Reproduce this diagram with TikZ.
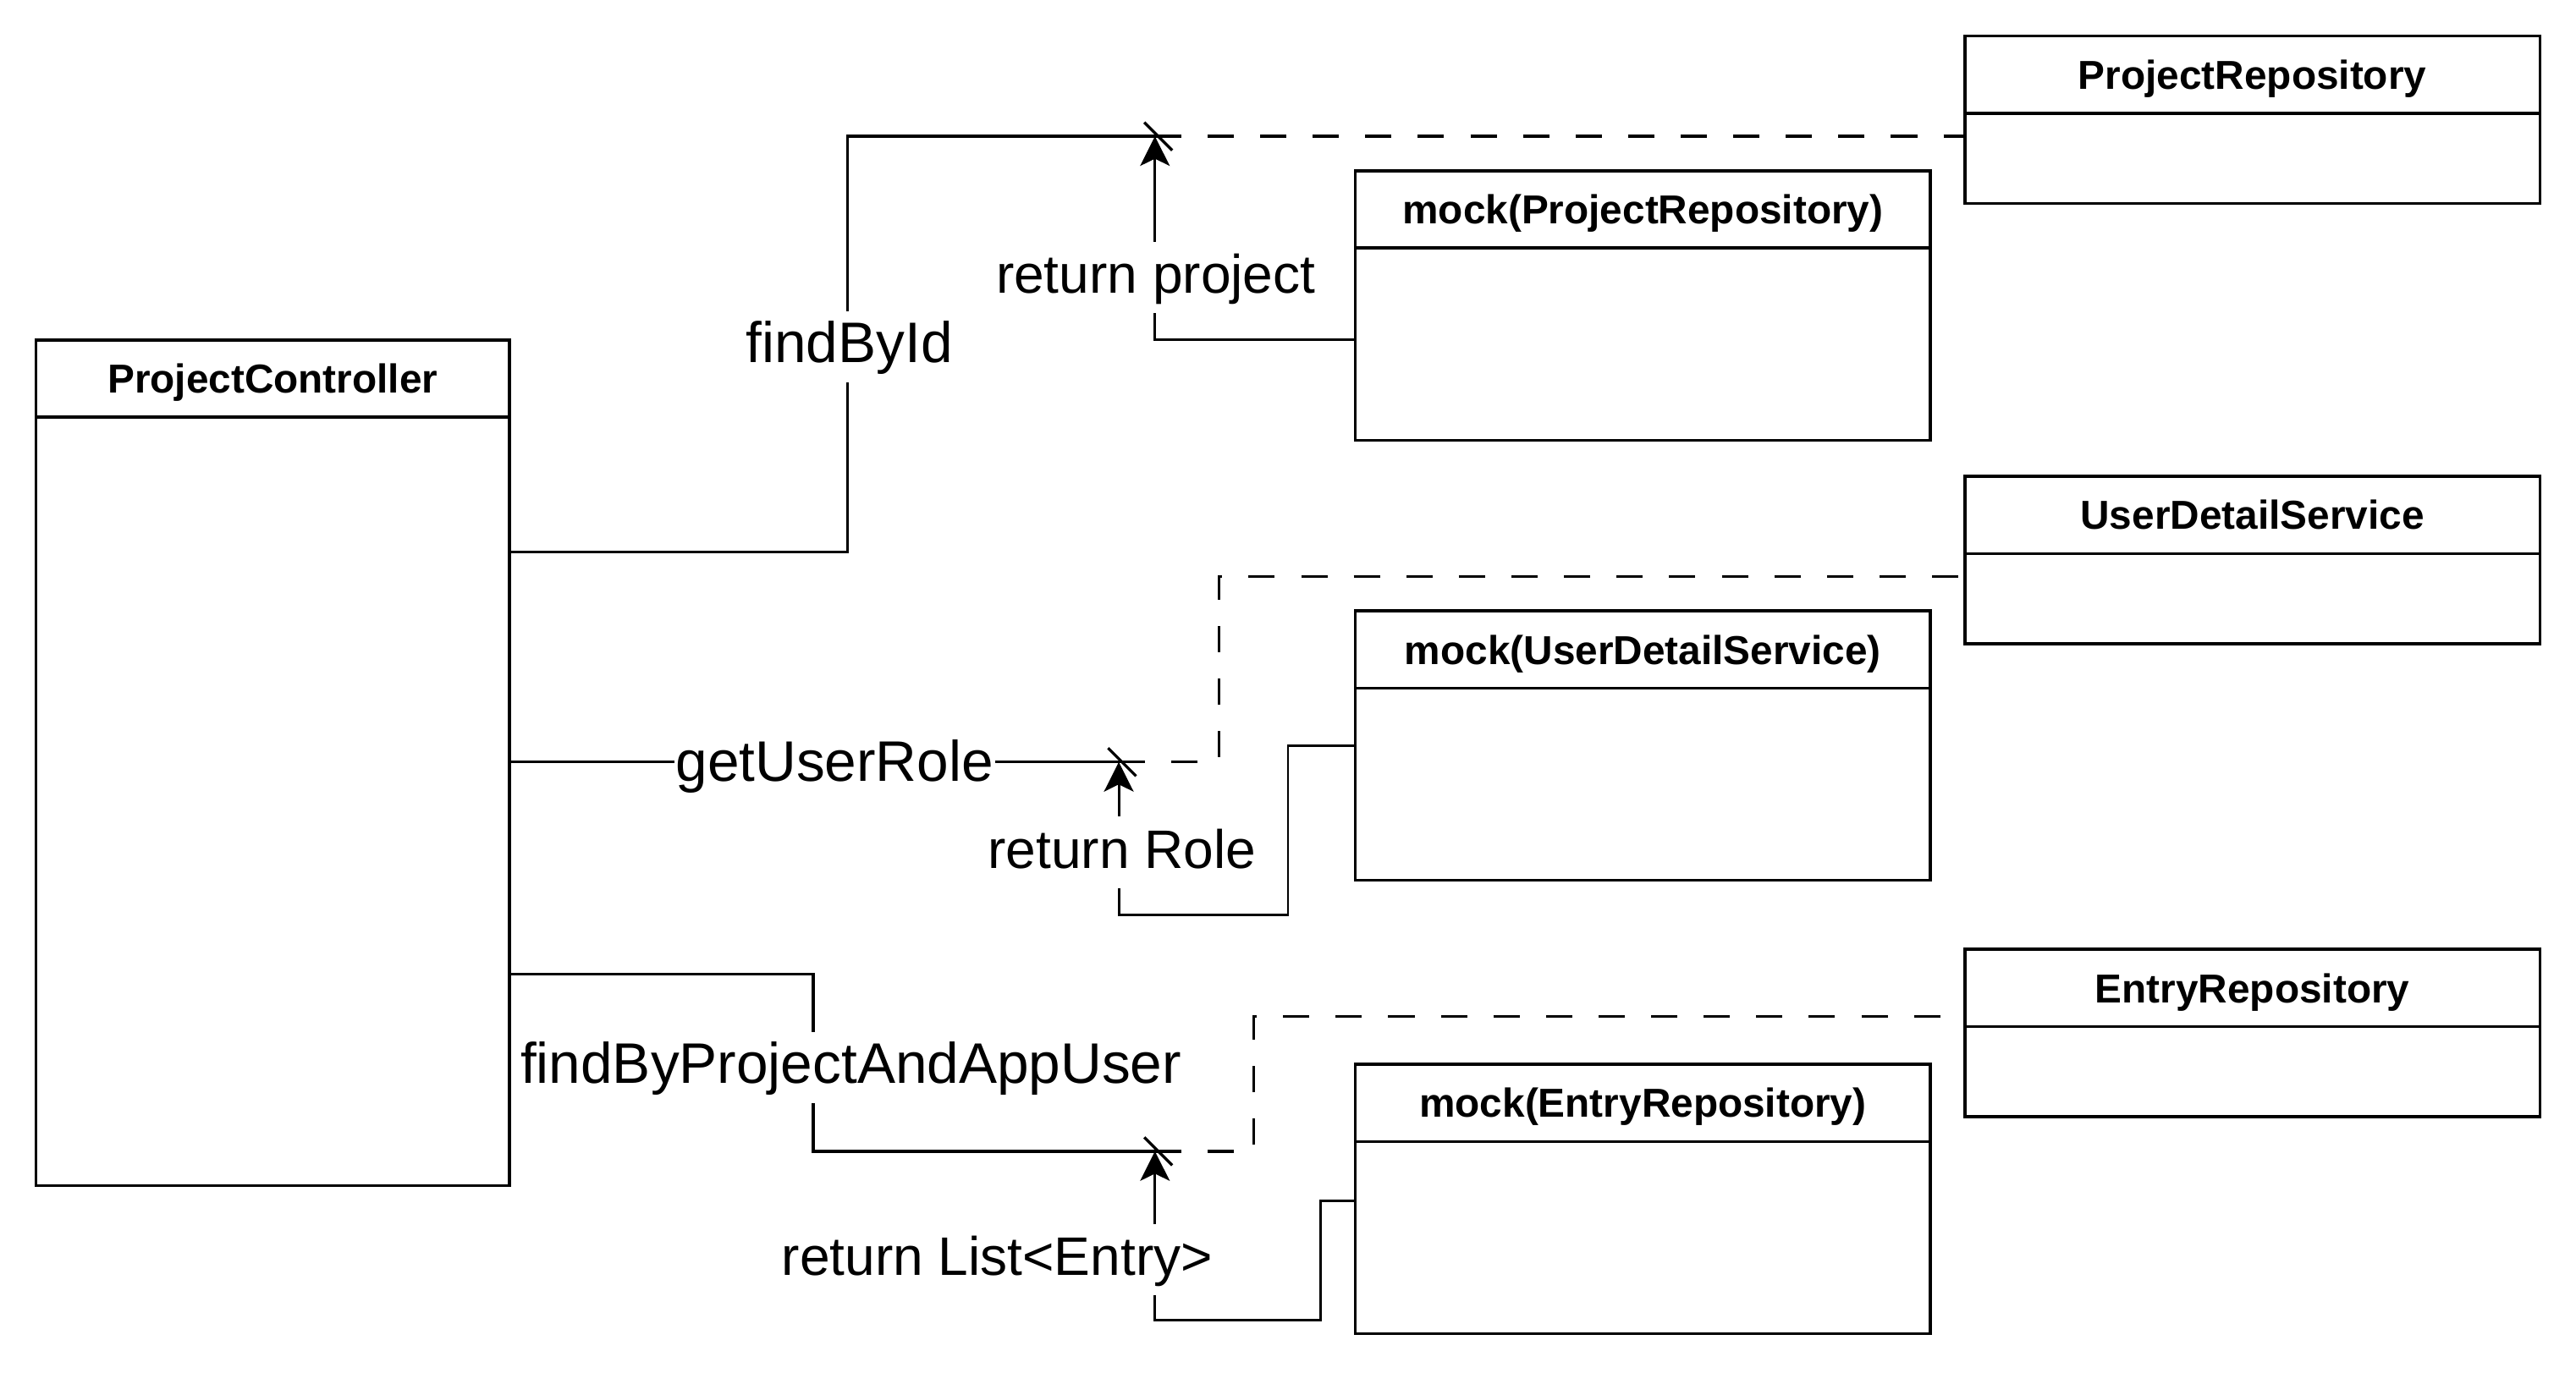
\documentclass[tikz,border=0pt]{standalone}
\usepackage{fontspec}
\setmainfont{Liberation Sans}
\usetikzlibrary{calc,positioning,arrows.meta}
\def\cutmark(#1){\draw[line width=0.85pt] ($(#1)+(-6.5,-8.5)$) -- ++(17,17);}
\tikzset{
	classhead/.style={draw, line width=0.9pt, outer sep=0pt, inner sep=0pt, minimum height=23.5pt, text height=8.9pt, text depth=0pt, anchor=north west, font=\fontsize{12.3}{14}\selectfont\bfseries},
	classbody/.style={draw, line width=0.9pt, outer sep=0pt, inner sep=0pt},
	call/.style={line width=0.85pt},
	mockof/.style={line width=0.85pt, dash pattern=on 8pt off 8pt},
	answer/.style={line width=0.75pt, -{Stealth[length=9pt, width=9pt, inset=2.2pt]}},
	msg/.style={fill=white, inner xsep=0.5pt, inner ysep=2.6pt, text height=13pt, text depth=3.5pt, font=\fontsize{17.4}{20}\selectfont},
	reply/.style={msg, font=\fontsize{16.5}{19}\selectfont}
}

\begin{document}
\begin{tikzpicture}[x=0.5pt, y=-0.5pt]
		%%%%% START %%%%%
		\useasboundingbox (0,0) rectangle (1568,842.7);
		
		\node[classhead, minimum width=144pt] (ctrl) at (22,207) {ProjectController};
		\node[classbody, below=0pt of ctrl, minimum width=144pt, minimum height=234pt] (ctrlb) {};
		
		\node[classhead, minimum width=175pt] (prepo) at (1196,22) {ProjectRepository};
		\node[classbody, below=0pt of prepo, minimum width=175pt, minimum height=27.5pt] (prepob) {};
		\node[classhead, minimum width=175pt] (mprepo) at (825,104) {mock(ProjectRepository)};
		\node[classbody, below=0pt of mprepo, minimum width=175pt, minimum height=58.5pt] (mprepob) {};
		
		\node[classhead, minimum width=175pt] (uds) at (1196,290) {UserDetailService};
		\node[classbody, below=0pt of uds, minimum width=175pt, minimum height=27.5pt] (udsb) {};
		\node[classhead, minimum width=175pt] (muds) at (825,372) {mock(UserDetailService)};
		\node[classbody, below=0pt of muds, minimum width=175pt, minimum height=58.5pt] (mudsb) {};
		
		\node[classhead, minimum width=175pt] (erepo) at (1196,578) {EntryRepository};
		\node[classbody, below=0pt of erepo, minimum width=175pt, minimum height=27.5pt] (erepob) {};
		\node[classhead, minimum width=175pt] (merepo) at (825,648) {mock(EntryRepository)};
		\node[classbody, below=0pt of merepo, minimum width=175pt, minimum height=58.5pt] (merepob) {};
		
		\coordinate (j1) at (703,83);
		\coordinate (j2) at (681,464);
		\coordinate (j3) at (703,701);
		
		% findById
		\draw[call] ($(ctrlb.north east)+(0,82)$) -| (516,83) -- (j1);
		\draw[mockof] (j1) -- ($(prepob.north west)+(0,14)$);
		\draw[answer] ($(mprepob.north west)+(0,56)$) -| (j1);
		\cutmark(j1)
		
		% getUserRole
		\draw[call] ($(ctrlb.north east)+(0,210)$) -- (j2);
		\draw[mockof] (j2) -| (742,351) -- ($(udsb.north west)+(0,14)$);
		\draw[answer] ($(mudsb.north west)+(0,35)$) -| (784,557) -| (j2);
		\cutmark(j2)
		
		% findByProjectAndAppUser
		\draw[call] ($(ctrlb.north east)+(0,339)$) -| (495,701) -- (j3);
		\draw[mockof] (j3) -| (763,619) -- ($(erepo.north west)+(0,41)$);
		\draw[answer] ($(merepob.north west)+(0,36)$) -| (804,804) -| (j3);
		\cutmark(j3)
		
		\node[msg] (mFind) at (517,211) {findById};
		\node[reply] (mRetProject) at (703.5,169) {return project};
		\node[msg] (mRole) at (508,466) {getUserRole};
		\node[reply] (mRetRole) at (683,519) {return Role};
		\node[msg] (mEntries) at (518,650) {findByProjectAndAppUser};
		\node[reply] (mRetList) at (607,767) {return List<Entry>};
		
		%%%%% END %%%%%
\end{tikzpicture}
\end{document}
